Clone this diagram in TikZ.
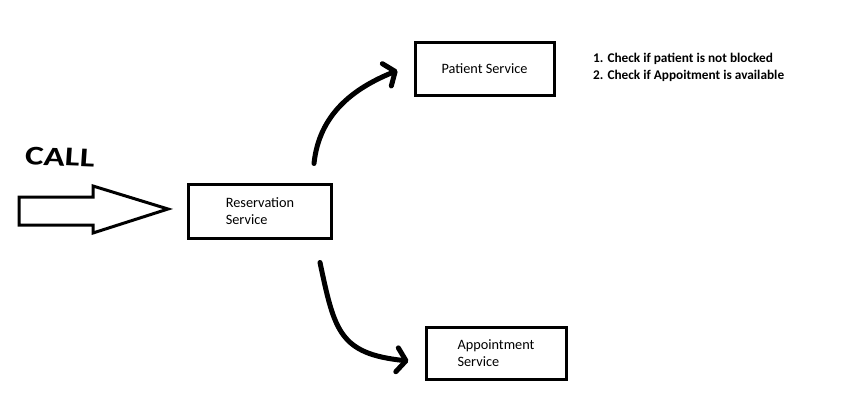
\documentclass[tikz,border=0pt]{standalone}
\usepackage{fontspec}
\setmainfont{Carlito}
\usetikzlibrary{arrows.meta}
\tikzset{>={Straight Barb[length=9pt,width=24pt,line cap=round,line join=round]}}

\begin{document}
\begin{tikzpicture}[x=1pt, y=1pt,
  svc/.style={draw, line width=3pt, minimum width=140pt, minimum height=54pt, align=left, font=\fontsize{14.3}{17}\selectfont},
  curly/.style={->, line width=5pt, line cap=round}]
\useasboundingbox (0,0) rectangle (841,-410);
\node[svc, minimum width=143pt] (res) at (260,-211) {Reservation\\Service};
\node[svc, minimum width=139pt, minimum height=53pt] (pat) at (484.5,-68.5) {Patient Service};
\node[svc, minimum height=52pt] (app) at (496,-353) {Appointment\\Service};
\node[anchor=north west, inner sep=0pt, align=left, font=\fontsize{13.3}{17}\selectfont\bfseries] (note) at (593,-53) {1. Check if patient is not blocked\\2. Check if Appoitment is available};
\node[font=\fontsize{27}{27}\selectfont\bfseries, xscale=1.3, transform shape, rotate=-3] (call) at (60,-157) {CALL};
% big outlined arrow into the reservation service
\draw[line width=3pt, line join=miter] (19,-197) -- (93,-197) -- (93,-186) -- (168,-209) -- (93,-233) -- (93,-225) -- (19,-225) -- cycle;
\draw[curly] ([xshift=-19pt,yshift=19pt]res.north east) to[out=84, in=202] ([xshift=-16pt,yshift=-2pt]pat.west);
\draw[curly] ([xshift=-13pt,yshift=-23pt]res.south east) to[out=-78, in=174, looseness=1.35] ([xshift=-16pt,yshift=-8pt]app.west);
\end{tikzpicture}
\end{document}
